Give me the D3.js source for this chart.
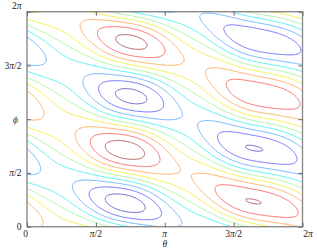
<!DOCTYPE html>
<html><head><meta charset="utf-8">
<script src="https://cdn.jsdelivr.net/npm/d3@7"></script>
<style>body{margin:0;background:#fff}svg{display:block}</style>
</head><body><svg id="c" width="317" height="249"></svg>
<script>
const W = 317, H = 249;
const plot = {left: 27, right: 302.5, top: 11.7, bottom: 226.7};

// Field:  f(θ,φ) = R(θ') · cos(2φ − ψ(θ')) · (1 + ε·sin φ),  θ' = θ + δ·sin φ
// amplitude R(θ): Fourier coefficients, index = harmonic k
const ampCos = [3.039, -0.1876, -0.254, 0.175, 0.0625];
const ampSin = [0, -0.0873, -1.187, 0.132, -0.034];
// phase ψ(θ) = psiBase − θ + Σ_k (psiSin[k]·sin kθ + psiCos[k]·cos kθ)
const psiBase = [6.786];
const psiSin = [0, 0, -0.0506, 0];
const psiCos = [0, 0, 0.2652, 0];
const phiModulation = [0.035];   // ε
const thetaWarp = [0.1];         // δ

// contour levels and their colours
const levels = [-4, -3, -2, -1, 0, 1, 2, 3, 4];
const levelColors = ["#6868c4", "#6e6eff", "#6cb2ff", "#4ef0f0", "#a8f49c",
                     "#f2ee48", "#ffae66", "#ff6b6b", "#b46262"];

const xTickValues = [0, Math.PI / 2, Math.PI, 1.5 * Math.PI, 2 * Math.PI];
const xTickLabels = ["0", "π/2", "π", "3π/2", "2π"];
const yTickValues = [0, Math.PI / 2, Math.PI, 1.5 * Math.PI, 2 * Math.PI];
const yTickLabels = ["0", "π/2", "", "3π/2", "2π"];
const xTitle = "θ", yTitle = "ϕ";

const svg = d3.select("#c");
const x = d3.scaleLinear().domain([0, 2 * Math.PI]).range([plot.left, plot.right]);
const y = d3.scaleLinear().domain([0, 2 * Math.PI]).range([plot.bottom, plot.top]);

function amp(t) {
  let r = 0;
  for (let k = 0; k < ampCos.length; k++) r += ampCos[k] * Math.cos(k * t) + ampSin[k] * Math.sin(k * t);
  return r;
}
function psi(t) {
  let p = psiBase[0] - t;
  for (let k = 1; k < psiSin.length; k++) p += psiSin[k] * Math.sin(k * t) + psiCos[k] * Math.cos(k * t);
  return p;
}
function field(th, phi) {
  const tw = th + thetaWarp[0] * Math.sin(phi);
  return amp(tw) * Math.cos(2 * phi - psi(tw)) * (1 + phiModulation[0] * Math.sin(phi));
}

// sample the field on a grid slightly larger than the plot
const nx = 321, ny = 321, pad = 0.08;
const t0 = -pad, t1 = 2 * Math.PI + pad;
const dT = (t1 - t0) / (nx - 1), dP = (t1 - t0) / (ny - 1);
const values = new Float64Array(nx * ny);
for (let j = 0; j < ny; j++) {
  const phi = t0 + j * dP;
  for (let i = 0; i < nx; i++) values[j * nx + i] = field(t0 + i * dT, phi);
}
const contours = d3.contours().size([nx, ny]).thresholds(levels)(values);
const gTheta = g => t0 + (g - 0.5) * dT;
const gPhi = g => t0 + (g - 0.5) * dP;
const proj = d3.geoTransform({point(px, py) { this.stream.point(x(gTheta(px)), y(gPhi(py))); }});
const path = d3.geoPath(proj);

svg.append("clipPath").attr("id", "clip").append("rect")
  .attr("x", plot.left).attr("y", plot.top)
  .attr("width", plot.right - plot.left).attr("height", plot.bottom - plot.top);

svg.append("g").attr("clip-path", "url(#clip)")
  .selectAll("path").data(contours).join("path")
  .attr("d", path)
  .attr("fill", "none")
  .attr("stroke", d => levelColors[levels.indexOf(d.value)])
  .attr("stroke-width", 1);

// border
svg.append("rect")
  .attr("x", plot.left).attr("y", plot.top)
  .attr("width", plot.right - plot.left).attr("height", plot.bottom - plot.top)
  .attr("fill", "none").attr("stroke", "#8a8a8a").attr("stroke-width", 1.4);

// axes with inward ticks
const tickLen = 4;
const axB = d3.axisBottom(x).tickValues(xTickValues).tickSize(-tickLen).tickFormat("");
const axT = d3.axisTop(x).tickValues(xTickValues).tickSize(-tickLen).tickFormat("");
const axL = d3.axisLeft(y).tickValues(yTickValues).tickSize(-tickLen).tickFormat("");
const axR = d3.axisRight(y).tickValues(yTickValues).tickSize(-tickLen).tickFormat("");
[[axB, `translate(0,${plot.bottom})`], [axT, `translate(0,${plot.top})`],
 [axL, `translate(${plot.left},0)`], [axR, `translate(${plot.right},0)`]].forEach(([ax, tr]) => {
  const g = svg.append("g").attr("transform", tr).call(ax);
  g.select(".domain").remove();
  g.selectAll("line").attr("stroke", "#666").attr("stroke-width", 1);
});

function mathText(sel, s) {
  const parts = s.split(/([πθϕ])/).filter(p => p.length);
  parts.forEach(p => {
    sel.append("tspan").attr("font-style", /[πθϕ]/.test(p) ? "italic" : "normal").text(p);
  });
}

const font = "Liberation Serif, DejaVu Serif, serif";
xTickValues.forEach((v, i) => {
  const dx = i === xTickValues.length - 1 ? 5.5 : (i === 0 ? -1.5 : 0);
  const t = svg.append("text").attr("x", x(v) + dx).attr("y", 236.5)
    .attr("text-anchor", "middle").attr("font-family", font).attr("font-size", 9.5)
    .attr("fill", "#222");
  mathText(t, xTickLabels[i]);
});
yTickValues.forEach((v, i) => {
  if (!yTickLabels[i]) return;
  const dy = i === yTickValues.length - 1 ? -6.5 : 0;
  const t = svg.append("text").attr("x", 21.5).attr("y", y(v) + dy + 3.3)
    .attr("text-anchor", "end").attr("font-family", font).attr("font-size", 9.5)
    .attr("fill", "#222");
  mathText(t, yTickLabels[i]);
});
// axis titles
const tx = svg.append("text").attr("x", x(Math.PI)).attr("y", 246.5)
  .attr("text-anchor", "middle").attr("font-family", font).attr("font-size", 9.5).attr("fill", "#222");
mathText(tx, xTitle);
const ty = svg.append("text").attr("x", 15.5).attr("y", y(Math.PI) + 3.3)
  .attr("text-anchor", "middle").attr("font-family", font).attr("font-size", 9.5).attr("fill", "#222");
mathText(ty, yTitle);
</script>
</body></html>
